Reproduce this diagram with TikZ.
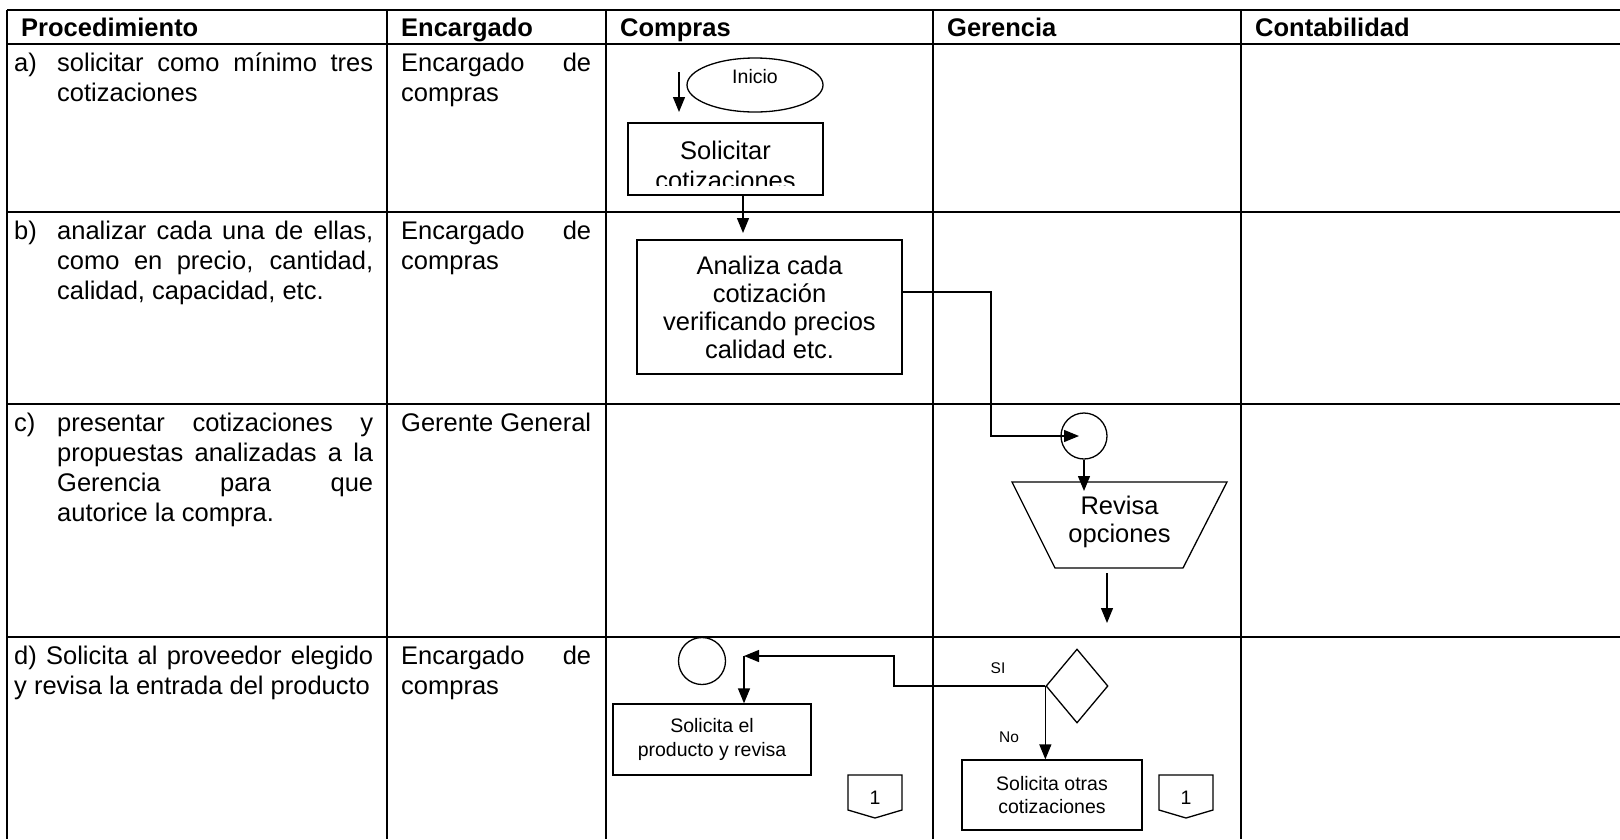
\documentclass[tikz,border=0pt]{standalone}
\usepackage{fontspec}
\setmainfont{Liberation Sans}
\usetikzlibrary{arrows.meta,shapes.geometric}

% font sizes used in the table and in the flow chart
\newcommand\fbody{\fontsize{25.5}{30}\selectfont}
\newcommand\fhead{\fontsize{25.5}{30}\selectfont\bfseries}
\newcommand\fboxt{\fontsize{25.5}{28}\selectfont}
\newcommand\fsmall{\fontsize{19.5}{23.5}\selectfont}
\newcommand\ftiny{\fontsize{15.5}{18}\selectfont}

% off-page connector: name, x of its centre
\newcommand\offpage[2]{%
  \node[inner sep=0pt,font=\fsmall] (#1) at (#2,798) {1};
  \draw[fl] (#2-27,775) -- (#2+27,775) -- (#2+27,810) -- (#2,818) -- (#2-27,810) -- cycle;}

\begin{document}
\begin{tikzpicture}[x=1pt,y=-1pt,
  tline/.style={line width=2pt},
  fl/.style={line width=1.3pt},
  arr/.style={fl,-{Triangle[length=15pt,width=12pt]}},
  cell/.style={anchor=base west,inner sep=0pt,font=\fbody},
  head/.style={anchor=base west,inner sep=0pt,font=\fhead},
  proc/.style={draw,fl,rectangle,inner sep=0pt,align=center},
  ring/.style={draw,fl,circle,inner sep=0pt}]
\useasboundingbox (0,0) rectangle (1620,839);

% ---------- table grid ----------
\foreach \yy in {10,44,212,404,637}
  \draw[tline] (7,\yy) -- (1620,\yy);
\foreach \xx in {7,387,606,933,1241}
  \draw[tline] (\xx,10) -- (\xx,839);

% ---------- header ----------
\node[head] (h1) at (21,36)   {Procedimiento};
\node[head] (h2) at (401,36)  {Encargado};
\node[head] (h3) at (620,36)  {Compras};
\node[head] (h4) at (947,36)  {Gerencia};
\node[head] (h5) at (1255,36) {Contabilidad};

% ---------- column: Procedimiento ----------
\node[cell] (la)  at (14,71)  {a)};
\node[cell] (ta1) at (57,71)  {\makebox[316pt][s]{solicitar como mínimo tres}};
\node[cell] (ta2) at (57,101) {cotizaciones};

\node[cell] (lb)  at (14,239) {b)};
\node[cell] (tb1) at (57,239) {\makebox[316pt][s]{analizar cada una de ellas,}};
\node[cell] (tb2) at (57,269) {\makebox[316pt][s]{como en precio, cantidad,}};
\node[cell] (tb3) at (57,299) {calidad, capacidad, etc.};

\node[cell] (lc)  at (14,431) {c)};
\node[cell] (tc1) at (57,431) {\makebox[316pt][s]{presentar cotizaciones y}};
\node[cell] (tc2) at (57,461) {\makebox[316pt][s]{propuestas analizadas a la}};
\node[cell] (tc3) at (57,491) {\makebox[316pt][s]{Gerencia para que}};
\node[cell] (tc4) at (57,521) {autorice la compra.};

\node[cell] (td1) at (14,664) {\makebox[359pt][s]{d) Solicita al proveedor elegido}};
\node[cell] (td2) at (14,694) {y revisa la entrada del producto};

% ---------- column: Encargado ----------
\node[cell] (ea1) at (401,71)  {\makebox[190pt][s]{Encargado de}};
\node[cell] (ea2) at (401,101) {compras};
\node[cell] (eb1) at (401,239) {\makebox[190pt][s]{Encargado de}};
\node[cell] (eb2) at (401,269) {compras};
\node[cell] (ec1) at (401,431) {Gerente General};
\node[cell] (ed1) at (401,664) {\makebox[190pt][s]{Encargado de}};
\node[cell] (ed2) at (401,694) {compras};

% ---------- flow: Compras, rows a and b ----------
\node[draw,fl,ellipse,minimum width=136pt,minimum height=54pt,inner sep=0pt,font=\fsmall]
  (ini) at (755,85) {\raisebox{8pt}[\height][\depth]{Inicio}};
\coordinate (s0) at (679,72);
\coordinate (s1) at (679,112);
\draw[arr] (s0) -- (s1);

\node[proc,minimum width=195pt,minimum height=72pt] (sol) at (725.5,159) {};
\begin{scope}
  \clip (628,123) rectangle (823,185);
  \node[anchor=base,inner sep=0pt,font=\fbody] (sol1) at (725.5,159) {Solicitar};
  \node[anchor=base,inner sep=0pt,font=\fbody] (sol2) at (725.5,189) {cotizaciones};
\end{scope}

\node[proc,minimum width=265pt,minimum height=134pt,font=\fboxt] (ana) at (769.5,307)
  {Analiza cada\\cotización\\verificando precios\\calidad etc.};
\coordinate (a1) at (743,233);
\draw[arr] (sol.south -| a1) -- (a1);

% ---------- flow: Gerencia, row c ----------
\node[ring,minimum size=46pt] (cg) at (1084,436) {};
\coordinate (k1) at (991,292);
\draw[arr] (ana.east |- k1) -| (k1 |- cg.center) -- ([xshift=-5pt]cg.center);

\coordinate (r1) at (1012,482);
\coordinate (r2) at (1227,482);
\coordinate (r3) at (1183,568);
\coordinate (r4) at (1055,568);
\draw[fl] (r1) -- (r2) -- (r3) -- (r4) -- cycle;
\node[inner sep=0pt,align=center,font=\fboxt] (rev) at (1119.5,522) {Revisa\\opciones};
\coordinate (revin) at (1084,491);
\draw[arr] (cg.south) -- (revin);

\coordinate (d0) at (1107,573);
\coordinate (d1) at (1107,623);
\draw[arr] (d0) -- (d1);

% ---------- flow: row d ----------
\node[draw,fl,diamond,minimum width=62pt,minimum height=74pt,inner sep=0pt] (dec) at (1077,686) {};
\node[inner sep=0pt,font=\ftiny] (si) at (998,668) {SI};
\node[inner sep=0pt,font=\ftiny] (no) at (1009,737) {No};

\node[ring,minimum size=47pt] (cd) at (702,661) {};
\node[proc,minimum width=198pt,minimum height=71pt,font=\fsmall] (prod) at (712,739.5)
  {Solicita el\\producto y revisa};
\node[proc,minimum width=180pt,minimum height=70pt,font=\fsmall] (otras) at (1052,795)
  {Solicita otras\\cotizaciones};

\coordinate (j1) at (894,656);
\coordinate (j2) at (744,656);
\draw[arr] (dec.west) -| (j1) -- (j2);
\draw[arr] (j2) -- (j2 |- prod.north);
\draw[arr] (dec.west) -- (dec.west |- otras.north);

\offpage{op1}{875}
\offpage{op2}{1186}
\end{tikzpicture}
\end{document}
